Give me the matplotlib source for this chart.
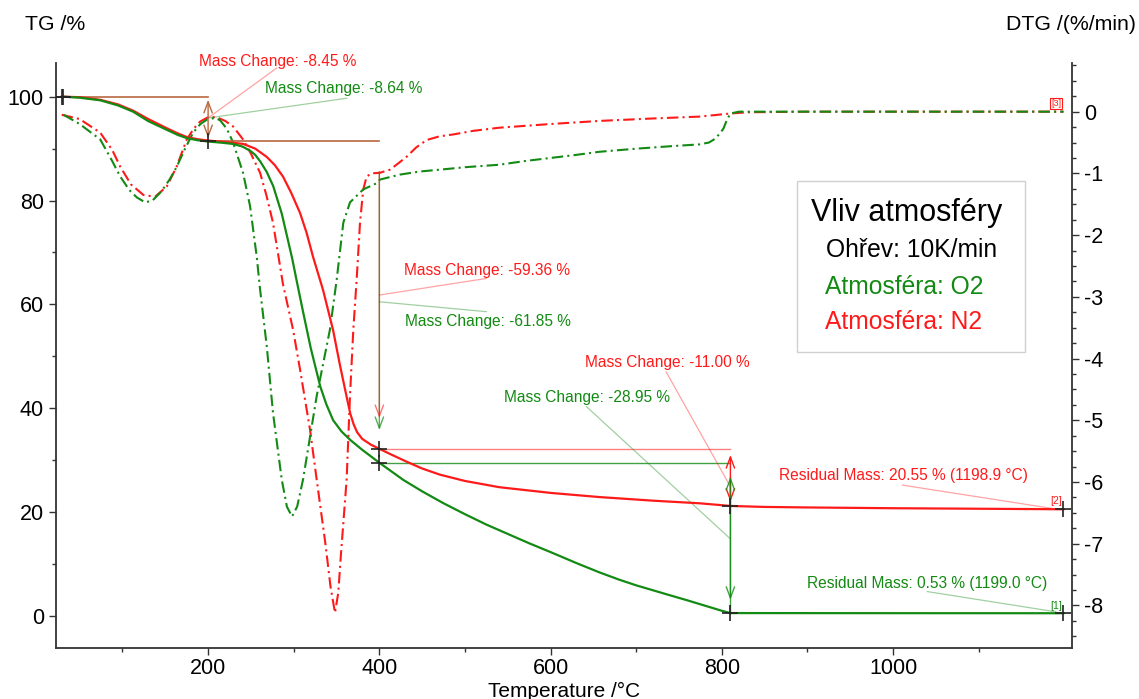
import numpy as np
import matplotlib
matplotlib.use('Agg')
from matplotlib import pyplot as plt

plt.rcParams['font.family'] = ['Liberation Sans', 'DejaVu Sans']

RED = '#ff1a1a'
GREEN = '#138a13'
BROWN = '#b8683f'

# TG curves (%)
t_tg_n2 = [29, 50, 74, 95, 112.5, 130, 152, 165, 175.5, 188, 200, 215, 230, 241, 255, 268.5, 278, 287.5,
           297, 307.4, 315, 322.5, 334.2, 345.9, 354, 361.8, 366, 370, 374, 380, 390, 400, 415, 432,
           450, 471, 500, 540, 600, 657, 720, 774, 810, 850, 900, 1000, 1100, 1199]
tg_n2 = [100, 99.9, 99.4, 98.5, 97.3, 95.7, 93.9, 92.9, 92.2, 91.8, 91.55, 91.35, 91.1, 90.9, 90.0, 88.4, 86.8, 84.6,
         81.5, 77.6, 73.8, 69.2, 62.8, 55.1, 48.3, 42.2, 39.0, 36.9, 35.4, 34.1, 33.0, 32.19, 31.0, 29.7,
         28.4, 27.2, 26.0, 24.8, 23.7, 22.9, 22.2, 21.7, 21.19, 21.0, 20.9, 20.75, 20.65, 20.55]

t_tg_o2 = [31, 50, 74, 95, 112.5, 130, 152, 165, 175.5, 188, 200, 215, 229, 240, 249, 255, 261, 268.5, 276,
           286, 298, 303.5, 311, 320, 331, 338, 346, 356, 366, 380, 400, 428, 450, 475, 500, 525, 550, 575,
           600, 630, 657, 680, 700, 735, 760, 780, 800, 810, 900, 1000, 1100, 1199]
tg_o2 = [100, 99.8, 99.3, 98.3, 97.1, 95.3, 93.6, 92.6, 92.0, 91.6, 91.36, 91.15, 90.9, 90.4, 89.6, 88.8, 87.5, 85.5, 82.8,
         77.5, 69.0, 64.5, 58.5, 51.5, 44.2, 40.8, 37.7, 35.5, 33.9, 32.0, 29.51, 26.2, 24.0, 21.7, 19.6, 17.6, 15.8, 14.0,
         12.3, 10.2, 8.4, 7.0, 5.9, 4.2, 3.0, 2.0, 1.0, 0.56, 0.55, 0.54, 0.535, 0.53]

# DTG curves (%/min)
t_dtg_n2 = [29, 50, 74, 88, 97.3, 110, 124.5, 138, 151.8, 163, 175.1, 183, 190.7, 200, 210, 220, 229.2, 240.8,
            250, 260.7, 268, 275.8, 287.5, 299.2, 307.4, 319, 326.8, 337, 343, 348.2, 352, 355, 361.8, 365.7,
            369.6, 373.5, 377.4, 381.2, 385.2, 391, 400.7, 412.4, 420, 431.9, 443, 455.2, 470, 485.9, 510, 540,
            600, 657, 720, 774, 810, 830, 900, 1000, 1100, 1199]
dtg_n2 = [-0.05, -0.12, -0.34, -0.62, -0.89, -1.18, -1.35, -1.38, -1.21, -0.9, -0.45, -0.28, -0.16, -0.09, -0.09, -0.15, -0.24, -0.45,
          -0.68, -0.99, -1.35, -1.8, -2.8, -3.53, -4.18, -5.15, -5.96, -7.0, -7.7, -8.12, -7.8, -7.2, -5.96, -4.61,
          -3.53, -2.72, -1.8, -1.26, -1.05, -1.0, -0.99, -0.94, -0.86, -0.73, -0.58, -0.46, -0.4, -0.37, -0.31, -0.26,
          -0.2, -0.15, -0.11, -0.08, -0.03, -0.01, 0, 0, 0, 0]

t_dtg_o2 = [31, 50, 74, 88, 97.3, 108, 116.8, 126.5, 135, 145, 155, 163.5, 172, 182.5, 191, 198.5, 208.2, 214, 222,
            229.2, 240.8, 249, 256.8, 260.7, 268.5, 275.8, 286, 292, 298, 304, 310.9, 326.8, 342.3, 350.2, 357.9,
            365.7, 381.2, 396.8, 400.7, 423.9, 447, 470.7, 500, 540, 570, 600, 630, 657, 700, 740, 774, 785, 792,
            798, 802, 806, 810, 820, 900, 1000, 1100, 1199]
dtg_o2 = [-0.05, -0.2, -0.45, -0.8, -1.05, -1.27, -1.39, -1.47, -1.44, -1.3, -1.1, -0.89, -0.63, -0.34, -0.2, -0.13, -0.1, -0.14, -0.28,
          -0.5, -0.99, -1.53, -2.35, -2.88, -3.8, -4.88, -5.96, -6.4, -6.56, -6.4, -5.96, -4.61, -3.53, -2.72, -1.8,
          -1.47, -1.26, -1.16, -1.1, -1.02, -0.97, -0.94, -0.9, -0.86, -0.8, -0.75, -0.7, -0.65, -0.6, -0.56, -0.53, -0.5, -0.44,
          -0.35, -0.27, -0.13, -0.03, 0.0, 0, 0, 0, 0]

# mass change step levels (T, TG)
steps_n2 = [(200, 91.55), (400, 32.19), (810, 21.19)]
steps_o2 = [(200, 91.36), (400, 29.51), (810, 0.56)]
resid_n2 = (1198.9, 20.55)
resid_o2 = (1199.0, 0.53)

fig = plt.figure(figsize=(11.39, 6.99), dpi=100)
ax = fig.add_axes([0.0489, 0.073, 0.8923, 0.837])
ax2 = ax.twinx()

dash = (0, (5.5, 2.0, 1.0, 2.0))
ax2.plot(t_dtg_n2, dtg_n2, color=RED, lw=1.5, ls=dash)
ax2.plot(t_dtg_o2, dtg_o2, color=GREEN, lw=1.5, ls=dash)
ax.plot(t_tg_n2, tg_n2, color=RED, lw=1.6, zorder=4)
ax.plot(t_tg_o2, tg_o2, color=GREEN, lw=1.6, zorder=5)
ax.set_zorder(ax2.get_zorder() + 1)
ax.patch.set_visible(False)

# reference lines
ax.plot([28, 200], [100, 100], color=BROWN, lw=1.2)
ax.plot([200, 400], [91.45, 91.45], color=BROWN, lw=1.2)
ax.plot([400, 810], [steps_n2[1][1], steps_n2[1][1]], color=RED, lw=1, alpha=0.55)
ax.plot([400, 810], [steps_o2[1][1], steps_o2[1][1]], color=GREEN, lw=1, alpha=0.8)
ax.plot([810, 810], [steps_o2[1][1] - 2.7, steps_o2[2][1]], color=GREEN, lw=1, alpha=0.8)

def arrow(x, y0, y1, col, style='<->', alpha=1.0):
    ax.annotate('', xy=(x, y1), xytext=(x, y0),
                arrowprops=dict(arrowstyle=style + ',head_length=0.8,head_width=0.3',
                                color=col, lw=1, alpha=alpha, shrinkA=0, shrinkB=0))

arrow(200, 99.4, 92.0, BROWN)
arrow(400, 85.5, 35.8, GREEN, '->', 0.7)
arrow(400, 85.5, 38.1, RED, '->', 0.6)
arrow(810, 31.0, 22.0, RED)
arrow(810, 26.8, 3.1, GREEN, '<->', 0.8)

# crosses
cx = [29, 31, 200, 400, 400, 810, 810, resid_n2[0], resid_o2[0]]
cy = [100, 100, 91.45, 32.19, 29.51, 21.19, 0.56, resid_n2[1], resid_o2[1]]
ax.plot(cx, cy, ls='none', marker='+', ms=11, mew=1.2, color='#222222', zorder=6)

# annotations
fs = 11.2
labels = [
    ('Mass Change: -8.45 %', RED, 189.5, 106.7, (280, 105.5), (200, 95.9)),
    ('Mass Change: -8.64 %', GREEN, 266.5, 101.5, (362, 99.7), (200, 95.9)),
    ('Mass Change: -59.36 %', RED, 428.7, 66.6, (525, 65.0), (400, 61.8)),
    ('Mass Change: -61.85 %', GREEN, 429.9, 56.8, (525, 58.6), (400, 60.5)),
    ('Mass Change: -11.00 %', RED, 640, 48.9, (735, 47.0), (809, 25.2)),
    ('Mass Change: -28.95 %', GREEN, 545.4, 42.0, (642, 40.3), (809, 15.0)),
    ('Residual Mass: 20.55 % (1198.9 °C)', RED, 866.3, 27.0, (1011, 25.2), (1186, 20.7)),
    ('Residual Mass: 0.53 % (1199.0 °C)', GREEN, 899, 6.2, (1040, 4.7), (1190, 0.8)),
]
for txt, col, x, y, p0, p1 in labels:
    ax.text(x, y, txt, color=col, fontsize=fs, ha='left', va='center', clip_on=False)
    ax.plot([p0[0], p1[0]], [p0[1], p1[1]], color=col, lw=0.9, alpha=0.4, clip_on=False)

ax.text(1190, 22.1, '[2]', color=RED, fontsize=7.5, ha='center', va='center')
ax.text(1190, 1.9, '[1]', color=GREEN, fontsize=7.5, ha='center', va='center')
ax2.text(1190.7, 0.13, '[3]', color=RED, fontsize=6.5, ha='center', va='center',
         bbox=dict(boxstyle='square,pad=0.1', fc='white', ec=RED, lw=0.8))

# axes styling
ax.set_xlim(22, 1209)
ax.set_ylim(-6.16, 106.5)
ax2.set_ylim(-8.69, 0.79)
ax.set_xticks([200, 400, 600, 800, 1000])
ax.set_xticks([100, 300, 500, 700, 900, 1100], minor=True)
ax.set_yticks([0, 20, 40, 60, 80, 100])
ax.set_yticks([10, 30, 50, 70, 90], minor=True)
ax2.set_yticks(np.arange(-8, 0.5, 1))
ax2.set_yticks(np.arange(-8.5, 0.8, 0.25), minor=True)
ax2.set_yticklabels([str(int(v)) for v in np.arange(-8, 0.5, 1)])
for a in (ax, ax2):
    a.spines['top'].set_visible(False)
    a.tick_params(which='major', length=5, width=1, labelsize=15.5, direction='out', color='#333333')
    a.tick_params(which='minor', length=3, width=1, direction='out', color='#333333')
    for s in a.spines.values():
        s.set_color('#333333')
        s.set_linewidth(1.3)
ax.tick_params(axis='x', pad=2)
ax.spines['right'].set_visible(False)
ax2.spines['left'].set_visible(False)
ax2.spines['bottom'].set_visible(False)

fig.text(25 / 1139, 1 - 24 / 699, 'TG /%', fontsize=15.3, ha='left', va='center')
fig.text(1136 / 1139, 1 - 24 / 699, 'DTG /(%/min)', fontsize=15.3, ha='right', va='center')
fig.text(564 / 1139, 1 - 691 / 699, 'Temperature /°C', fontsize=15, ha='center', va='center')

# legend box
fig.patches.append(plt.Rectangle((797 / 1139, 1 - 352 / 699), 228 / 1139, 171 / 699,
                                 transform=fig.transFigure, fc='white', ec='#d0d0d0', lw=1, zorder=10))
fig.text(907 / 1139, 1 - 213 / 699, 'Vliv atmosféry', fontsize=22, ha='center', va='center', zorder=11)
fig.text(826 / 1139, 1 - 250 / 699, 'Ohřev: 10K/min', fontsize=17.7, ha='left', va='center', zorder=11)
fig.text(825 / 1139, 1 - 287 / 699, 'Atmosféra: O2', fontsize=17.7, color=GREEN, ha='left', va='center', zorder=11)
fig.text(825 / 1139, 1 - 322 / 699, 'Atmosféra: N2', fontsize=17.7, color=RED, ha='left', va='center', zorder=11)

fig.savefig('out.png', dpi=100)
